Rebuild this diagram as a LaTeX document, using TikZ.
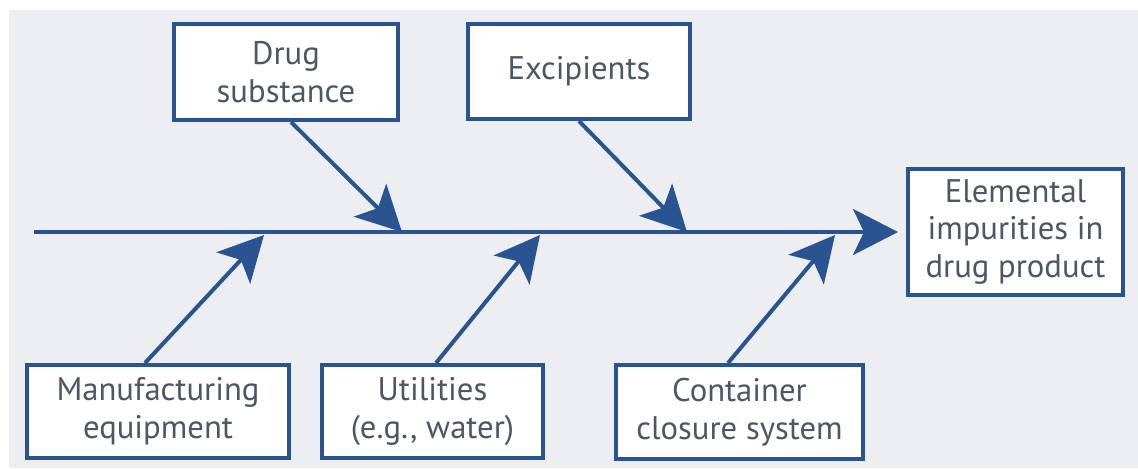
\documentclass[tikz,border=0pt]{standalone}
\usepackage{fontspec}
\setmainfont{PT Sans}
\usetikzlibrary{arrows.meta}
\definecolor{fishblue}{RGB}{42,84,145}
\definecolor{labelgray}{RGB}{76,86,100}
\definecolor{panelgray}{RGB}{236,238,241}

\begin{document}
\begin{tikzpicture}[x=0.02cm,y=-0.02cm,
  causebox/.style={draw=fishblue,fill=white,line width=0.08cm,align=center,
    text=labelgray,font=\fontsize{18.6}{21.5}\selectfont,inner sep=0pt},
  bone/.style={fishblue,line width=0.08cm,
    -{Stealth[length=0.9cm,width=0.92cm,inset=0.22cm]}}]
  \useasboundingbox (0,0) rectangle (1138,468);
  \fill[panelgray] (9,10) rectangle (1138,468);
  \node[causebox,minimum width=4.48cm,minimum height=1.92cm] (drug) at (286,72) {Drug\\substance};
  \node[causebox,minimum width=4.44cm,minimum height=1.9cm] (excip) at (579,71.5) {Excipients};
  \node[causebox,minimum width=5.24cm,minimum height=1.86cm] (manuf) at (158,411.5) {Manufacturing\\equipment};
  \node[causebox,minimum width=4.42cm,minimum height=1.86cm] (util) at (432.5,411.5) {Utilities\\(e.g., water)};
  \node[causebox,minimum width=4.94cm,minimum height=1.88cm] (cont) at (739.5,412) {Container\\closure system};
  \node[causebox,minimum width=4.3cm,minimum height=2.52cm] (impur) at (1015.5,232) {Elemental\\impurities in\\drug product};
  \coordinate (tail) at (34,232);
  \coordinate (drugtip) at (402,232);
  \coordinate (exciptip) at (687,232);
  \coordinate (manuftip) at (264,235);
  \coordinate (utiltip) at (540,235);
  \coordinate (conttip) at (835,235);
  \draw[bone] (tail) -- ([xshift=-0.16cm]impur.west);
  \draw[bone] ([xshift=0.1cm]drug.south) -- (drugtip);
  \draw[bone] (excip.south) -- (exciptip);
  \draw[bone] ([xshift=-0.26cm]manuf.north) -- (manuftip);
  \draw[bone] ([xshift=0.07cm]util.north) -- (utiltip);
  \draw[bone] ([xshift=-0.23cm]cont.north) -- (conttip);
\end{tikzpicture}
\end{document}
